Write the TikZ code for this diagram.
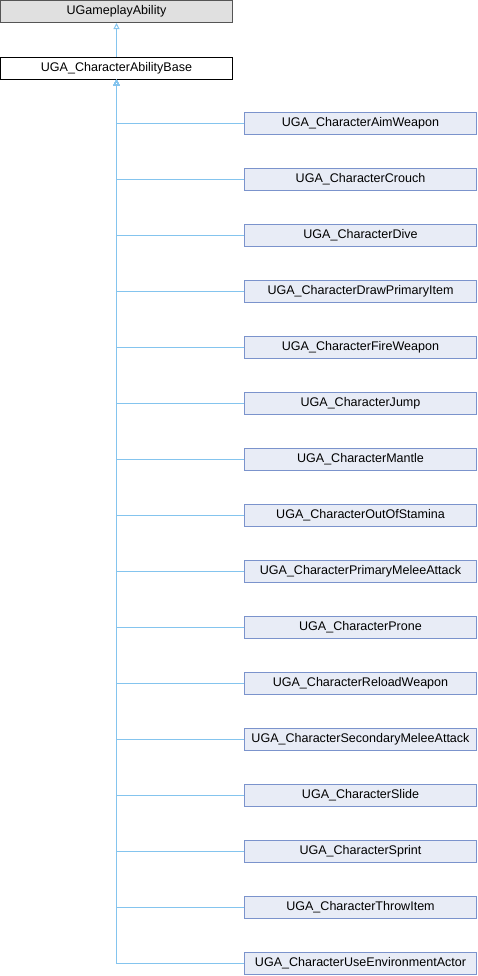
\documentclass[tikz,border=0pt]{standalone}
\usepackage{fontspec}
\setmainfont{Liberation Sans}
\usetikzlibrary{arrows.meta}

\definecolor{ext fill}{HTML}{E0E0E0}
\definecolor{ext edge}{HTML}{555555}
\definecolor{sub fill}{HTML}{E8ECF6}
\definecolor{sub edge}{HTML}{7B93CC}
\definecolor{inherit}{HTML}{84C4EE}

\begin{document}
\begin{tikzpicture}[x=0.75pt,y=-0.75pt,font=\fontsize{9.4pt}{11pt}\selectfont,
  box/.style={draw, line width=0.75pt, minimum width=174.5pt, minimum height=16.5pt, inner sep=0pt},
  extbox/.style={box, fill=ext fill, draw=ext edge},
  basebox/.style={box, fill=white, draw=black},
  subbox/.style={box, fill=sub fill, draw=sub edge},
  edge/.style={draw=inherit, line width=0.75pt, -{Triangle[open, length=4.5pt, width=4.5pt]}}]
\useasboundingbox (0,0) rectangle (478,976);

    \node[extbox] (ability) at (116.5,11.5) {UGameplayAbility};
    \node[basebox] (base) at (116.5,68) {UGA\_CharacterAbilityBase};
    \draw[edge] (base) -- (ability);

    % derived classes
    \foreach \name [count=\i from 0] in {AimWeapon, Crouch, Dive, DrawPrimaryItem, FireWeapon, Jump, Mantle, OutOfStamina, PrimaryMeleeAttack, Prone, ReloadWeapon, SecondaryMeleeAttack, Slide, Sprint, ThrowItem, UseEnvironmentActor}
    {
        \node[subbox] (sub\i) at (360.5,123.5+56*\i) {UGA\_Character\name};
        \draw[edge] (sub\i.west) -| (base.south);
    }

\end{tikzpicture}
\end{document}
